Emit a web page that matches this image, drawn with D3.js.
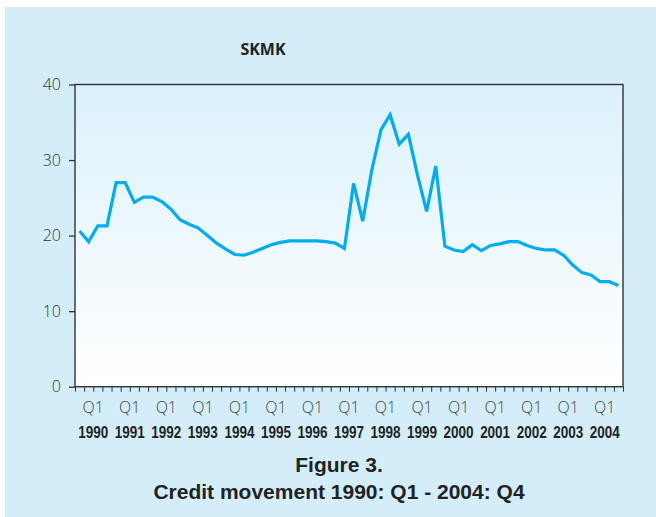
<!DOCTYPE html>
<html>
<head>
<meta charset="utf-8">
<script src="https://cdn.jsdelivr.net/npm/d3@7"></script>
<style>
  body { margin: 0; background: #fff; }
  svg { display: block; }
</style>
</head>
<body>
<div id="chart"></div>
<script>
const title = "SKMK";
const captionLines = ["Figure 3.", "Credit movement 1990: Q1 - 2004: Q4"];
const years = [1990, 1991, 1992, 1993, 1994, 1995, 1996, 1997, 1998, 1999, 2000, 2001, 2002, 2003, 2004];
const quarters = ["Q1", "Q2", "Q3", "Q4"];
const yTicks = [0, 10, 20, 30, 40];

// one value per quarter, 1990 Q1 .. 2004 Q4
const credit = [
  20.6, 19.2, 21.3, 21.3, 27.0, 27.0, 24.4, 25.1, 25.1, 24.5,
  23.5, 22.1, 21.5, 21.0, 20.0, 19.0, 18.2, 17.5, 17.4, 17.8,
  18.3, 18.8, 19.1, 19.3, 19.3, 19.3, 19.3, 19.2, 19.0, 18.3,
  26.9, 21.9, 28.7, 34.0, 36.0, 32.1, 33.4, 28.0, 23.2, 29.2,
  18.6, 18.1, 17.9, 18.8, 18.0, 18.7, 18.9, 19.2, 19.2, 18.7,
  18.3, 18.1, 18.1, 17.4, 16.1, 15.1, 14.8, 13.9, 13.9, 13.4
];

const width = 656, height = 517;
const plot = { left: 75, right: 623, top: 84.5, bottom: 386.7 };

const svg = d3.select("#chart").append("svg")
  .attr("width", width)
  .attr("height", height);

// background panel
svg.append("rect")
  .attr("x", 5).attr("y", 7)
  .attr("width", width - 5).attr("height", height - 7)
  .attr("fill", "#d3eef9");

const grad = svg.append("defs").append("linearGradient")
  .attr("id", "plotBg").attr("x1", 0).attr("y1", 0).attr("x2", 0).attr("y2", 1);
grad.append("stop").attr("offset", "0%").attr("stop-color", "#dcf1fb");
grad.append("stop").attr("offset", "100%").attr("stop-color", "#ffffff");

svg.append("rect")
  .attr("x", plot.left).attr("y", plot.top)
  .attr("width", plot.right - plot.left).attr("height", plot.bottom - plot.top)
  .attr("fill", "url(#plotBg)");

// scales
const y = d3.scaleLinear().domain([0, 40]).range([plot.bottom, plot.top]);
const xq = d3.scaleLinear().domain([0, credit.length]).range([plot.left, plot.right]);
const xYear = d3.scaleBand().domain(years).range([plot.left, plot.right]);

// y axis
const yAxis = svg.append("g")
  .attr("transform", `translate(${plot.left},0)`)
  .call(d3.axisLeft(y).tickValues(yTicks).tickSize(6).tickPadding(8));
yAxis.select(".domain").remove();
yAxis.selectAll("line").attr("stroke", "#333").attr("stroke-width", 1.3);
yAxis.selectAll("text")
  .attr("font-family", "'Open Sans', sans-serif")
  .attr("font-size", 16)
  .attr("font-weight", 300)
  .attr("fill", "#333");

// x axis: a tick at every quarter boundary
const xAxis = svg.append("g")
  .attr("transform", `translate(0,${plot.bottom})`)
  .call(d3.axisBottom(xq).tickValues(d3.range(credit.length + 1)).tickSize(5).tickFormat(""));
xAxis.select(".domain").remove();
xAxis.selectAll("line").attr("stroke", "#333").attr("stroke-width", 1);

// Q1 labels and year labels, centred on each year
svg.append("g").selectAll("text")
  .data(years)
  .enter().append("text")
  .attr("x", d => xYear(d) + xYear.bandwidth() / 2)
  .attr("y", 413)
  .attr("text-anchor", "middle")
  .attr("font-family", "'Open Sans', sans-serif")
  .attr("font-size", 16)
  .attr("font-weight", 300)
  .attr("fill", "#444")
  .text(quarters[0]);

// condensed bold years: squeeze the glyphs to the narrow width of the original
svg.append("g").selectAll("text")
  .data(years)
  .enter().append("text")
  .attr("x", d => xYear(d) + xYear.bandwidth() / 2 - 15)
  .attr("y", 438)
  .attr("font-family", "'Liberation Sans', Arial, sans-serif")
  .attr("font-size", 16.5)
  .attr("font-weight", "bold")
  .attr("fill", "#222")
  .attr("textLength", 30)
  .attr("lengthAdjust", "spacingAndGlyphs")
  .text(d => d);

// frame
svg.append("rect")
  .attr("x", plot.left).attr("y", plot.top)
  .attr("width", plot.right - plot.left).attr("height", plot.bottom - plot.top)
  .attr("fill", "none")
  .attr("stroke", "#333")
  .attr("stroke-width", 1.4);

// the series
const line = d3.line()
  .x((d, i) => xq(i + 0.5))
  .y(d => y(d));

svg.append("path")
  .datum(credit)
  .attr("d", line)
  .attr("fill", "none")
  .attr("stroke", "#00aeef")
  .attr("stroke-width", 3.2)
  .attr("stroke-linejoin", "miter");

// title
svg.append("text")
  .attr("x", 263).attr("y", 55)
  .attr("text-anchor", "middle")
  .attr("font-family", "'Open Sans', sans-serif")
  .attr("font-size", 16)
  .attr("font-weight", "bold")
  .attr("fill", "#222")
  .text(title);

// caption
svg.append("g").selectAll("text")
  .data(captionLines)
  .enter().append("text")
  .attr("x", 339)
  .attr("y", (d, i) => 472 + i * 27)
  .attr("text-anchor", "middle")
  .attr("font-family", "'Liberation Sans', Arial, sans-serif")
  .attr("font-size", 21)
  .attr("font-weight", "bold")
  .attr("fill", "#222")
  .text(d => d);
</script>
</body>
</html>
